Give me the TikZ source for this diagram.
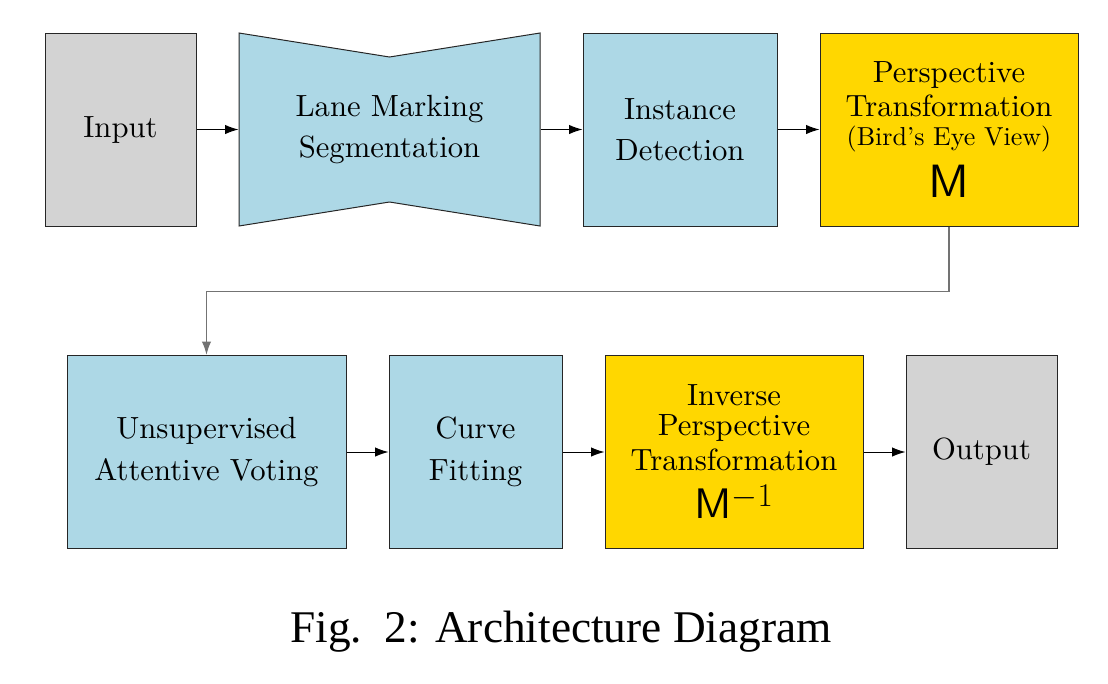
\documentclass[tikz,border=0pt]{standalone}
\usepackage{fontspec}
\usetikzlibrary{arrows.meta}
\setmainfont{lmroman10-regular}[Extension=.otf]
\setsansfont{lmsans10-regular}[Extension=.otf]
\newfontfamily\capfont{Liberation Serif}
\DeclareMathSizes{32}{32}{23}{16}

\definecolor{boxgray}{RGB}{211,211,211}
\definecolor{boxblue}{RGB}{173,216,230}
\definecolor{boxgold}{RGB}{255,215,0}
\definecolor{linkgray}{RGB}{115,115,115}

\tikzset{every picture/.style={line width=0.75pt}}
\tikzset{
  stage/.style={draw=black!85, inner sep=0pt, align=center,
    minimum height=193*0.75pt, font=\fontsize{23}{31}\selectfont},
  link/.style={-{Latex[length=10pt,width=7pt]}, draw=black},
}

\begin{document}
\begin{tikzpicture}[x=0.75pt,y=0.75pt,yscale=-1,xscale=1]
				\useasboundingbox (0,0) rectangle (1108,683);
				
				%Shape: Rectangle [id:input]
				\node [stage, fill=boxgray, minimum width=151*0.75pt] (input) at (120.5,129.5) {Input};
				%Shape: Bowtie [id:seg]
				\draw [draw=black!85, fill=boxblue] (239,33) -- (389.5,57) -- (540,33) -- (540,226) -- (389.5,202) -- (239,226) -- cycle ;
				\node [stage, draw=none, minimum width=301*0.75pt] (seg) at (389.5,129.5) {Lane Marking\\Segmentation};
				%Shape: Rectangle [id:inst]
				\node [stage, fill=boxblue, minimum width=194*0.75pt] (inst) at (680,129.5) {Instance\\Detection};
				%Shape: Rectangle [id:persp]
				\node [stage, fill=boxgold, minimum width=258*0.75pt] (persp) at (949,129.5) {Perspective\\[-5pt]Transformation\\[-9.5pt]{\fontsize{19.5}{20}\selectfont (Bird's Eye View)}\\[8pt]{\fontsize{35}{36}\selectfont\sffamily M}};
				
				%Shape: Rectangle [id:unsup]
				\node [stage, fill=boxblue, minimum width=279*0.75pt] (unsup) at (206.5,452) {Unsupervised\\Attentive Voting};
				%Shape: Rectangle [id:curve]
				\node [stage, fill=boxblue, minimum width=173*0.75pt] (curve) at (475.5,452) {Curve\\Fitting};
				%Shape: Rectangle [id:inv]
				\node [stage, fill=boxgold, minimum width=258*0.75pt] (inv) at (734,452) {Inverse\\[-8.5pt]Perspective\\[-4.75pt]Transformation\\[5pt]{\fontsize{32}{33}\selectfont$\mathsf{M}^{-1}$}};
				%Shape: Rectangle [id:output]
				\node [stage, fill=boxgray, minimum width=151*0.75pt] (output) at (981.5,452) {Output};
				
				% Arrows
				\draw [link] (input) -- (seg);
				\draw [link] (seg) -- (inst);
				\draw [link] (inst) -- (persp);
				\draw [link, draw=linkgray, line width=1.2pt] (persp.south) -- ++(0,65) -| (unsup.north);
				\draw [link] (unsup) -- (curve);
				\draw [link] (curve) -- (inv);
				\draw [link] (inv) -- (output);
				
				% Text Node
				\node [anchor=base, inner sep=0pt, font=\capfont\fontsize{34}{36}\selectfont] (caption) at (561,642) {Fig.~~2: Architecture Diagram};
			\end{tikzpicture}
\end{document}
